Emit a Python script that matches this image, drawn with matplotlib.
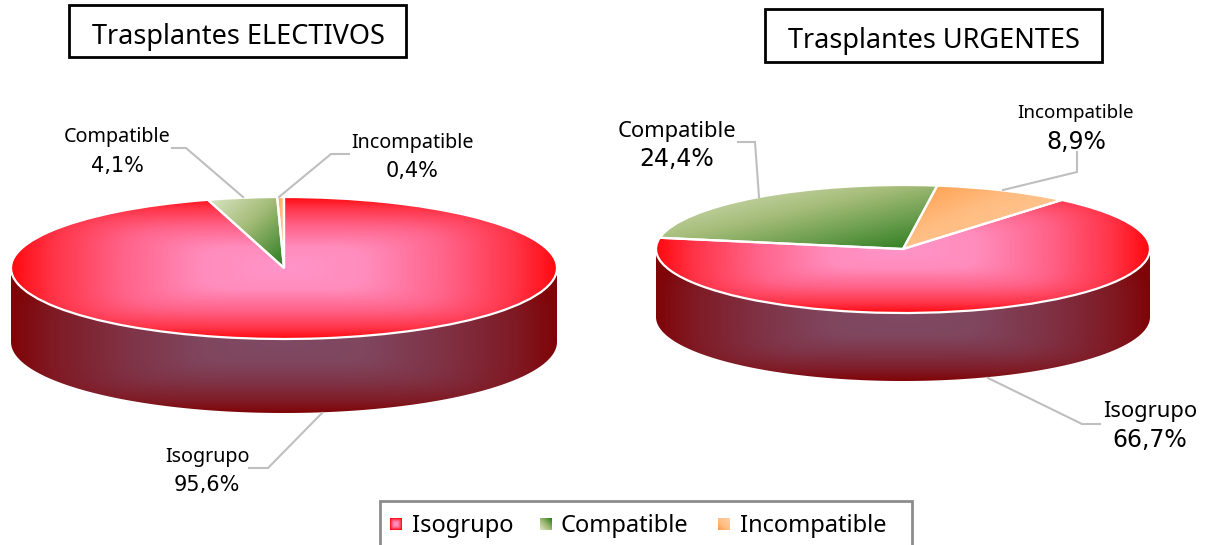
import numpy as np
import matplotlib
matplotlib.use('Agg')
import matplotlib.pyplot as plt
from matplotlib.colors import LinearSegmentedColormap
from matplotlib.patches import Polygon, Rectangle

plt.rcParams['font.family'] = ['Noto Sans', 'DejaVu Sans']

categorias = ['Isogrupo', 'Compatible', 'Incompatible']
electivos = [95.6, 4.1, 0.4]
urgentes = [66.7, 24.4, 8.9]
titulo_izq = 'Trasplantes ELECTIVOS'
titulo_der = 'Trasplantes URGENTES'

W, H = 1212, 545

cm_rojo = LinearSegmentedColormap.from_list('rojo', [(0, '#ff94c8'), (0.3, '#ff8cbc'), (0.6, '#ff6288'), (0.85, '#ff3448'), (1, '#ff0a10')])
cm_verde = LinearSegmentedColormap.from_list('verde', [(0, '#dce6c6'), (0.45, '#a4bc78'), (1, '#287a1c')])
cm_naranja = LinearSegmentedColormap.from_list('naranja', [(0, '#ff9c48'), (0.4, '#ffbc80'), (1, '#ffd0a4')])


def campo_radial(dy=0.0, n=300):
    x, y = np.meshgrid(np.linspace(-1, 1, n), np.linspace(-1 - dy, 1, n))
    r = (np.abs(x) ** 5 + np.abs(y + dy) ** 5) ** (1 / 5)
    return np.clip(r, 0, 1)


def campo_diagonal(n=120):
    u, v = np.meshgrid(np.linspace(0, 1, n), np.linspace(0, 1, n))
    return (u + 1 - v) / 2


def pastel(pos, valores, inicio):
    cx, cy, rx, ry, prof = pos
    ax = fig.add_axes([(cx - rx) / W, 1 - (cy + ry + prof) / H, 2 * rx / W, (2 * ry + prof) / H])
    d = prof / ry
    wedges, _ = ax.pie(valores, startangle=inicio, counterclock=False, radius=1,
                       wedgeprops=dict(edgecolor='white', linewidth=1.6, facecolor='none', zorder=5))
    ax.set_aspect('auto')

    # pared lateral, el mismo degradado mas oscuro
    t = np.linspace(np.pi, 2 * np.pi, 200)
    xs = np.cos(t)
    ys = np.sin(t)
    pared = Polygon(np.r_[np.c_[xs, ys], np.c_[xs[::-1], ys[::-1] - d]], closed=True, facecolor='none', edgecolor='none')
    ax.add_patch(pared)
    rgb = cm_rojo(campo_radial(d))[..., :3] * 0.5
    im = ax.imshow(rgb, extent=(-1, 1, -1 - d, 1), origin='lower', aspect='auto', zorder=1)
    im.set_clip_path(pared)

    # cara superior
    for w, cmap, rad in zip(wedges, [cm_rojo, cm_verde, cm_naranja], [True, False, False]):
        if rad:
            im = ax.imshow(cmap(campo_radial()), extent=(-1, 1, -1, 1), origin='lower', aspect='auto', zorder=3)
        else:
            bb = w.get_path().get_extents(w.get_patch_transform())
            im = ax.imshow(cmap(campo_diagonal()), extent=(bb.x0, bb.x1, bb.y0, bb.y1), origin='lower', aspect='auto', zorder=3)
        im.set_clip_path(w)
    ax.set_xlim(-1, 1)
    ax.set_ylim(-1 - d, 1)
    ax.set_axis_off()
    for w in wedges:
        w.set_clip_on(False)


fig = plt.figure(figsize=(W / 100, H / 100), dpi=100, facecolor='white')

pastel((284, 268, 273, 71, 74), electivos, 90)
pastel((903, 249, 247, 64, 68), urgentes, 50)

# capa de textos en pixeles
top = fig.add_axes([0, 0, 1, 1], zorder=10)
top.patch.set_alpha(0)
top.set_axis_off()

lineas = [
    [(172, 148), (186, 148), (243, 197)],
    [(349, 154), (331, 154), (279, 197)],
    [(249, 468), (268, 468), (322, 413)],
    [(738, 142), (755, 142), (759, 197)],
    [(1077, 152), (1077, 172), (1003, 190)],
    [(988, 378), (1082, 424), (1100, 424)],
]
for ln in lineas:
    top.plot(*zip(*ln), color='#bfbfbf', lw=1.5, solid_joinstyle='miter')


def pct(v):
    return f'{v:.1f}%'.replace('.', ',')


etiquetas = [
    (117, 137, 166, 14.2, 15, categorias[1], electivos[1]),
    (412, 143, 171, 14.2, 15, categorias[2], electivos[2]),
    (207, 457, 485, 14.2, 15, categorias[0], electivos[0]),
    (677, 131, 159, 15.8, 17, categorias[1], urgentes[1]),
    (1076, 113, 142, 13.5, 17, categorias[2], urgentes[2]),
    (1150, 411, 440, 15.8, 17, categorias[0], urgentes[0]),
]
for x, y1, y2, s1, s2, cat, val in etiquetas:
    top.text(x, y1, cat, ha='center', va='center', fontsize=s1, color='black')
    top.text(x, y2, pct(val), ha='center', va='center', fontsize=s2, color='black', family='DejaVu Sans')

# cajas de titulo
top.add_patch(Rectangle((69, 5), 337, 52, fc='white', ec='black', lw=2))
top.text(238, 37, titulo_izq, ha='center', va='center', fontsize=19.5, color='black')
top.add_patch(Rectangle((765, 9), 337, 53, fc='white', ec='black', lw=2))
top.text(934, 41, titulo_der, ha='center', va='center', fontsize=19.5, color='black')

# leyenda, cortada por el borde inferior
top.add_patch(Rectangle((380, 501), 532, 60, fc='white', ec='#8c8c8c', lw=2))
leyenda = [(396, 412), (546, 561), (724, 740)]
for (xc, xt), cat, cmap, campo in zip(leyenda, categorias, [cm_rojo, cm_verde, cm_naranja],
                                      [campo_radial(n=30), campo_diagonal(n=30), campo_diagonal(n=30)]):
    top.imshow(cmap(campo), extent=(xc - 6, xc + 6, 530, 518), aspect='auto', zorder=3)
    top.text(xt, 526, cat, ha='left', va='center', fontsize=17, color='black')

top.set_xlim(0, W)
top.set_ylim(H, 0)

fig.savefig('out.png', dpi=100)
